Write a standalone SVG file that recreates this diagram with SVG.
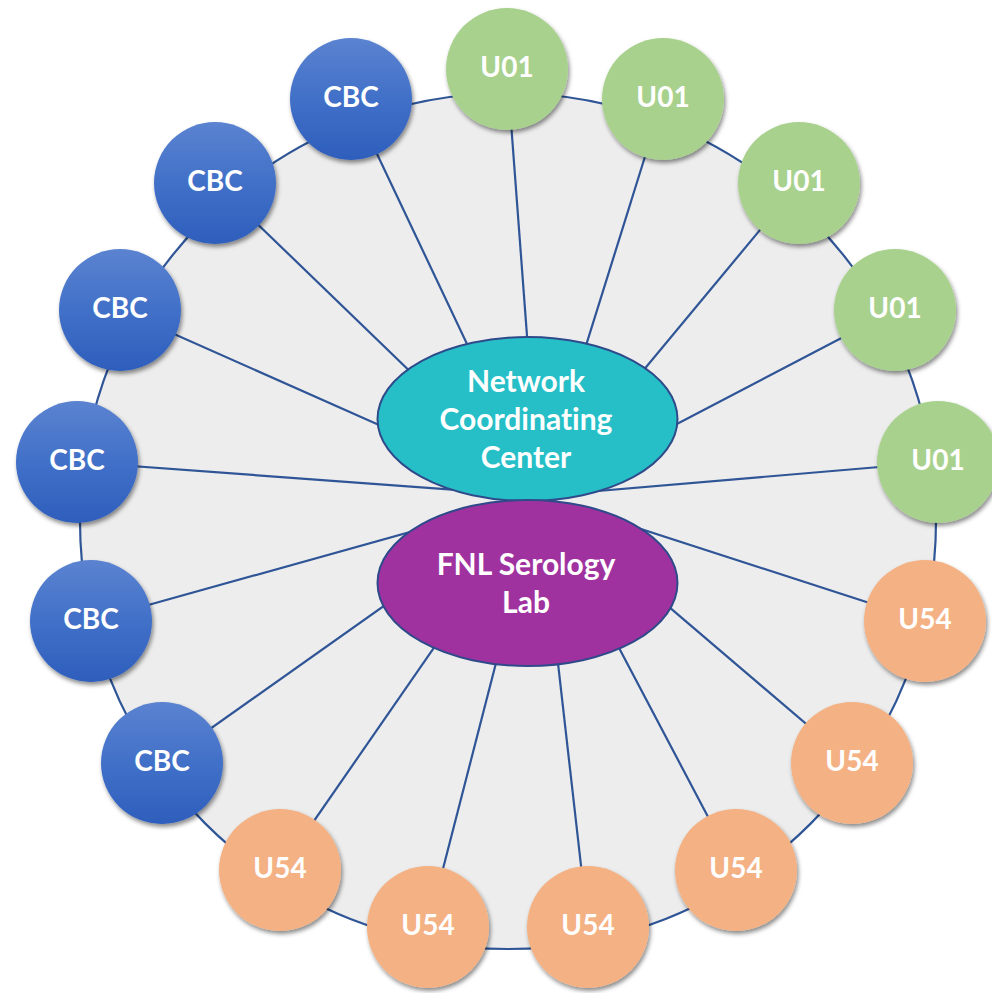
<svg xmlns="http://www.w3.org/2000/svg" width="992" height="993" viewBox="0 0 992 993">
<defs>
<linearGradient id="gBlue" x1="0" y1="0" x2="0" y2="1">
<stop offset="0" stop-color="#5B83D0"/>
<stop offset="0.5" stop-color="#4170C8"/>
<stop offset="1" stop-color="#2E5EBC"/>
</linearGradient>
<filter id="sh" x="-20%" y="-20%" width="150%" height="150%">
<feDropShadow dx="1.5" dy="3" stdDeviation="2.2" flood-color="#000" flood-opacity="0.45"/>
</filter>
<style>
.ring{fill:#EDEDED;stroke:#2F5597;stroke-width:2.2}
.conn line{stroke:#2F5597;stroke-width:2.2}
.node circle{filter:url(#sh)}
.cbc circle{fill:url(#gBlue)}
.u01 circle{fill:#A9D18E}
.u54 circle{fill:#F4B183}
.lbl{font-family:Lato,"Open Sans","Liberation Sans",sans-serif;font-weight:bold;fill:#fff;text-anchor:middle;font-variant-ligatures:none}
.node text{font-size:28px}
.big text{font-size:30px}
.ell{stroke:#2F4A8A;stroke-width:2}
</style>
</defs>
<circle class="ring" cx="508" cy="521" r="428"/>
<g id="connectors" class="conn">
<line x1="351" y1="99" x2="539" y2="496"/>
<line x1="215" y1="183" x2="539" y2="496"/>
<line x1="120" y1="310" x2="539" y2="496"/>
<line x1="77" y1="462" x2="539" y2="496"/>
<line x1="91" y1="621" x2="539" y2="496"/>
<line x1="162" y1="763" x2="539" y2="496"/>
<line x1="507" y1="69" x2="539" y2="496"/>
<line x1="663" y1="99" x2="539" y2="496"/>
<line x1="799" y1="183" x2="539" y2="496"/>
<line x1="895" y1="310" x2="539" y2="496"/>
<line x1="938" y1="462" x2="539" y2="496"/>
<line x1="925" y1="621" x2="539" y2="496"/>
<line x1="852" y1="763" x2="539" y2="496"/>
<line x1="736" y1="870" x2="539" y2="496"/>
<line x1="588" y1="927" x2="539" y2="496"/>
<line x1="428" y1="927" x2="539" y2="496"/>
<line x1="280" y1="870" x2="539" y2="496"/>
</g>
<g id="ncc" class="big">
<ellipse class="ell" cx="527.5" cy="419" rx="150" ry="82" fill="#26BFC7"/>
<text class="lbl" x="526" y="392">Network</text>
<text class="lbl" x="526" y="430">Coordinating</text>
<text class="lbl" x="526" y="468">Center</text>
</g>
<g id="fnl" class="big">
<ellipse class="ell" cx="527.5" cy="583" rx="150" ry="83" fill="#A0329F"/>
<text class="lbl" x="526" y="575">FNL Serology</text>
<text class="lbl" x="526" y="613">Lab</text>
</g>
<g id="cbc1" class="node cbc"><circle cx="351" cy="99" r="61"/><text class="lbl" x="351" y="107">CBC</text></g>
<g id="cbc2" class="node cbc"><circle cx="215" cy="183" r="61"/><text class="lbl" x="215" y="191">CBC</text></g>
<g id="cbc3" class="node cbc"><circle cx="120" cy="310" r="61"/><text class="lbl" x="120" y="318">CBC</text></g>
<g id="cbc4" class="node cbc"><circle cx="77" cy="462" r="61"/><text class="lbl" x="77" y="470">CBC</text></g>
<g id="cbc5" class="node cbc"><circle cx="91" cy="621" r="61"/><text class="lbl" x="91" y="629">CBC</text></g>
<g id="cbc6" class="node cbc"><circle cx="162" cy="763" r="61"/><text class="lbl" x="162" y="771">CBC</text></g>
<g id="u01a" class="node u01"><circle cx="507" cy="69" r="61"/><text class="lbl" x="507" y="77">U01</text></g>
<g id="u01b" class="node u01"><circle cx="663" cy="99" r="61"/><text class="lbl" x="663" y="107">U01</text></g>
<g id="u01c" class="node u01"><circle cx="799" cy="183" r="61"/><text class="lbl" x="799" y="191">U01</text></g>
<g id="u01d" class="node u01"><circle cx="895" cy="310" r="61"/><text class="lbl" x="895" y="318">U01</text></g>
<g id="u01e" class="node u01"><circle cx="938" cy="462" r="61"/><text class="lbl" x="938" y="470">U01</text></g>
<g id="u54a" class="node u54"><circle cx="925" cy="621" r="61"/><text class="lbl" x="925" y="629">U54</text></g>
<g id="u54b" class="node u54"><circle cx="852" cy="763" r="61"/><text class="lbl" x="852" y="771">U54</text></g>
<g id="u54c" class="node u54"><circle cx="736" cy="870" r="61"/><text class="lbl" x="736" y="878">U54</text></g>
<g id="u54d" class="node u54"><circle cx="588" cy="927" r="61"/><text class="lbl" x="588" y="935">U54</text></g>
<g id="u54e" class="node u54"><circle cx="428" cy="927" r="61"/><text class="lbl" x="428" y="935">U54</text></g>
<g id="u54f" class="node u54"><circle cx="280" cy="870" r="61"/><text class="lbl" x="280" y="878">U54</text></g>
</svg>
